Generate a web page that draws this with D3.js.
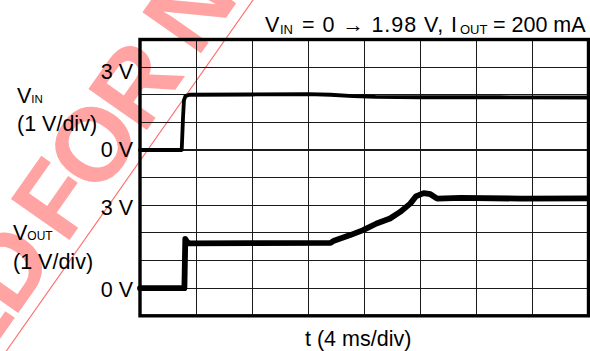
<!DOCTYPE html>
<html><head><meta charset="utf-8">
<script src="https://cdn.jsdelivr.net/npm/d3@7"></script>
<style>
html,body{margin:0;padding:0;background:#fff;}
svg{display:block;font-family:"Liberation Sans",Arial,Helvetica,sans-serif;}
</style>
</head><body>
<svg id="chart" width="590" height="351"></svg>
<script>
// ---- data ----
const timeDomainMs = [0, 40];          // 10 div x 4 ms/div
const divDomain = [0, 10];             // 10 vertical divisions
const vinZeroDiv = 6;                  // VIN ground marker (divisions from bottom)
const voutZeroDiv = 1;                 // VOUT ground marker

const vinTime  = [0, 3.72, 3.78, 3.84, 3.92, 4.05, 4.4, 10, 15, 17, 19, 21, 25, 32, 40];
const vinVolts = [0, 0, 0.6, 1.2, 1.8, 1.95, 2.0, 2.01, 2.02, 2.0, 1.95, 1.92, 1.91, 1.91, 1.9];

const voutTime  = [0, 3.96, 4.0, 4.04, 4.15, 4.4, 10, 17.0, 17.3, 18.75, 19.9, 21.1, 22.3, 23.2, 24.1, 24.6, 25.3, 25.9, 26.5, 28.6, 34, 40];
const voutVolts = [0, 0, 0.9, 1.78, 1.7, 1.62, 1.63, 1.64, 1.72, 1.92, 2.10, 2.34, 2.52, 2.76, 3.06, 3.32, 3.44, 3.40, 3.24, 3.27, 3.24, 3.25];

const levelLabels = [
  {ch: "vin",  volts: 3, text: "3 V", dy: 12},
  {ch: "vin",  volts: 0, text: "0 V", dy: 7},
  {ch: "vout", volts: 3, text: "3 V", dy: 10},
  {ch: "vout", volts: 0, text: "0 V", dy: 9}
];
const xAxisTitle = "t (4 ms/div)";
const scaleText = "(1 V/div)";

// ---- scales ----
const svg = d3.select("#chart");
const x = d3.scaleLinear(timeDomainMs, [140, 588.5]);
const yDiv = d3.scaleLinear(divDomain, [315.8, 39.5]);
const yVin = v => yDiv(vinZeroDiv + v);
const yVout = v => yDiv(voutZeroDiv + v);

// ---- watermark (behind everything) ----
const wm = svg.append("g").attr("transform", "translate(65.6,245.8) rotate(-54.9)");
wm.append("text").attr("x", 0).attr("y", 0)
  .attr("font-size", 104).attr("font-weight", "bold").attr("fill", "#ffa3a3")
  .attr("letter-spacing", -5)
  .text("FOR NEW DESIGNS");
wm.append("text").attr("x", -19).attr("y", 0).attr("text-anchor", "end")
  .attr("font-size", 104).attr("font-weight", "bold").attr("fill", "#ffa3a3")
  .attr("letter-spacing", -5)
  .text("NOT RECOMMENDED");
wm.append("line").attr("x1", -150).attr("x2", 450).attr("y1", 12).attr("y2", 12)
  .attr("stroke", "#ff6a6a").attr("stroke-width", 1.1);

// ---- grid ----
const grid = svg.append("g").attr("shape-rendering", "crispEdges");
grid.selectAll("line.v").data(x.ticks(10).slice(1, -1)).join("line")
  .attr("x1", d => x(d)).attr("x2", d => x(d))
  .attr("y1", yDiv(10)).attr("y2", yDiv(0))
  .attr("stroke", "#1a1a1a").attr("stroke-width", 1.1);
grid.selectAll("line.h").data(yDiv.ticks(10).slice(1, -1)).join("line")
  .attr("y1", d => yDiv(d)).attr("y2", d => yDiv(d))
  .attr("x1", x(0)).attr("x2", x(40))
  .attr("stroke", "#1a1a1a").attr("stroke-width", 1.1);

// ---- traces ----
const vinLine = d3.line().x(d => x(d[0])).y(d => yVin(d[1]));
const voutLine = d3.line().x(d => x(d[0])).y(d => yVout(d[1]));
svg.append("path").datum(d3.zip(vinTime, vinVolts)).attr("d", vinLine)
  .attr("fill", "none").attr("stroke", "#000").attr("stroke-width", 3.8)
  .attr("stroke-linejoin", "round").attr("stroke-linecap", "round");
svg.append("path").datum(d3.zip(voutTime, voutVolts)).attr("d", voutLine)
  .attr("fill", "none").attr("stroke", "#000").attr("stroke-width", 5.8)
  .attr("stroke-linejoin", "round").attr("stroke-linecap", "round");

// ---- frame ----
svg.append("rect")
  .attr("x", x(0)).attr("y", yDiv(10))
  .attr("width", x(40) - x(0)).attr("height", yDiv(0) - yDiv(10))
  .attr("fill", "none").attr("stroke", "#000").attr("stroke-width", 3.4);

// ---- texts ----
const fs = 21.5;
svg.selectAll("text.lvl").data(levelLabels).join("text")
  .attr("x", 133)
  .attr("y", d => (d.ch === "vin" ? yVin(d.volts) : yVout(d.volts)) + d.dy)
  .attr("text-anchor", "end").attr("font-size", fs).attr("fill", "#000")
  .text(d => d.text);

// channel labels
function chanLabel(xp, yb, sub, subSize) {
  const t = svg.append("text").attr("x", xp).attr("y", yb).attr("font-size", fs);
  t.append("tspan").text("V");
  t.append("tspan").attr("font-size", subSize).text(sub);
}
chanLabel(17, 103, "IN", 11.5);
svg.append("text").attr("x", 17).attr("y", 131).attr("font-size", fs).text(scaleText);
chanLabel(13, 240, "OUT", 12);
svg.append("text").attr("x", 13).attr("y", 269).attr("font-size", fs).text(scaleText);

// title
const tb = 31.5;
svg.append("text").attr("x", 265).attr("y", tb).attr("font-size", fs).text("V");
svg.append("text").attr("x", 280).attr("y", tb + 2.5).attr("font-size", 13).text("IN");
svg.append("text").attr("x", 302).attr("y", tb).attr("font-size", fs)
  .attr("textLength", 155).attr("lengthAdjust", "spacing").text("= 0 \u2192 1.98 V, I");
svg.append("text").attr("x", 460).attr("y", tb + 2.5).attr("font-size", 13).text("OUT");
svg.append("text").attr("x", 493).attr("y", tb).attr("font-size", fs).text("= 200 mA");

// x axis title
svg.append("text").attr("x", 305).attr("y", 346).attr("font-size", fs).text(xAxisTitle);
</script>
</body></html>
